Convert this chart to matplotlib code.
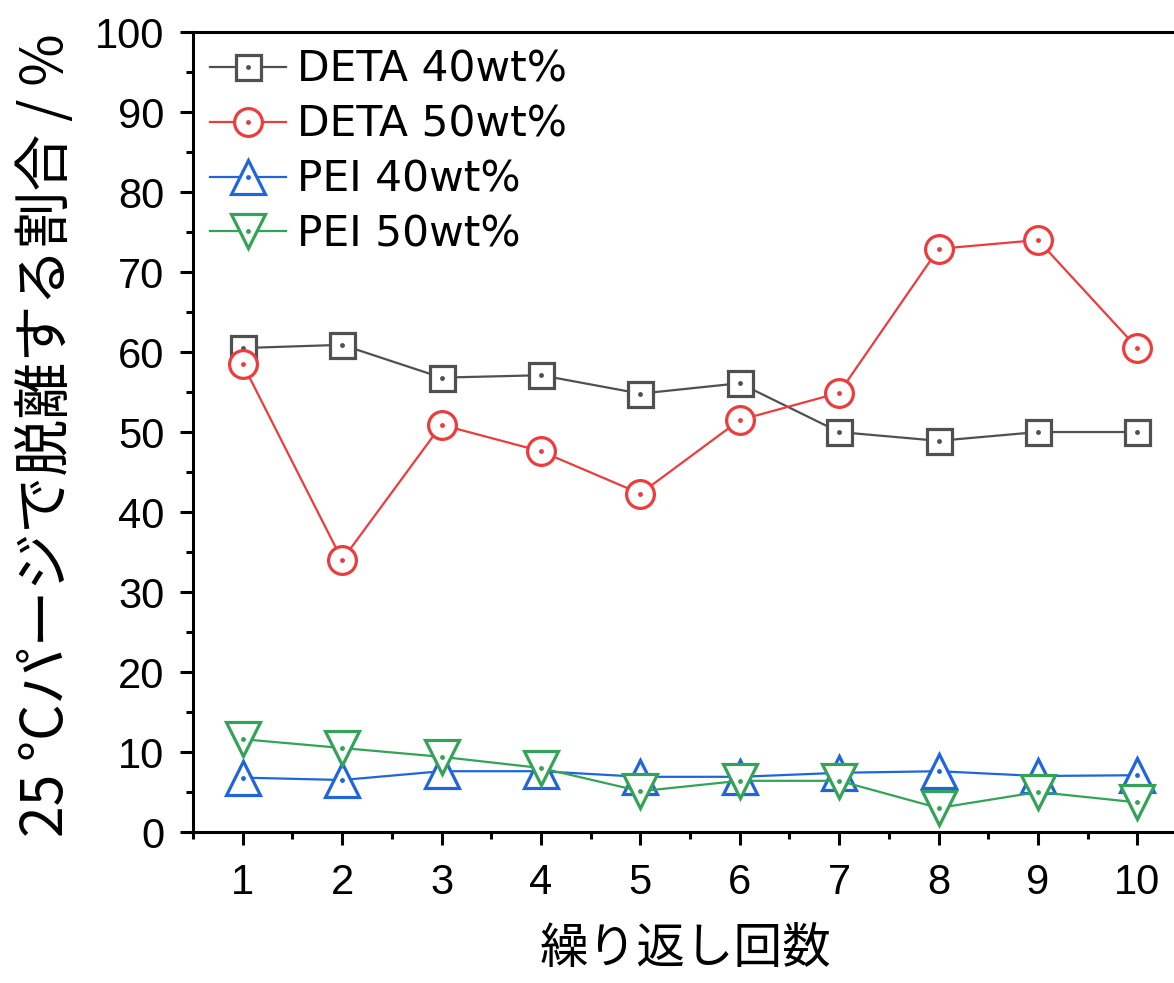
import numpy as np
import matplotlib
matplotlib.use("Agg")
import matplotlib.pyplot as plt
from matplotlib.ticker import MultipleLocator
from matplotlib.legend_handler import HandlerTuple

plt.rcParams['font.family'] = ['Liberation Sans', 'Noto Sans CJK JP', 'DejaVu Sans']
jp = ['Noto Sans CJK JP', 'DejaVu Sans']

# data
cycles = [1, 2, 3, 4, 5, 6, 7, 8, 9, 10]
deta40 = [60.5, 60.9, 56.8, 57.1, 54.8, 56.1, 50.0, 48.9, 50.0, 50.0]
deta50 = [58.5, 34.0, 50.9, 47.6, 42.3, 51.5, 54.9, 72.9, 74.0, 60.5]
pei40 = [6.8, 6.5, 7.6, 7.6, 6.9, 6.9, 7.4, 7.6, 7.0, 7.1]
pei50 = [11.6, 10.5, 9.4, 8.0, 5.1, 6.4, 6.4, 3.0, 5.0, 3.7]

labels = ['DETA 40wt%', 'DETA 50wt%', 'PEI 40wt%', 'PEI 50wt%']
colors = ['#505050', '#EE3B3B', '#1F65DB', '#33A457']
markers = ['s', 'o', '^', 'v']
msizes = [18, 20, 24, 24]

fig = plt.figure(figsize=(11.74, 9.83), dpi=100)
ax = fig.add_axes([0.1644, 0.1536, 0.8467, 0.8138])

handles = []
for ys, lab, c, m, ms in zip([deta40, deta50, pei40, pei50], labels, colors, markers, msizes):
    ln, = ax.plot(cycles, ys, color=c, lw=1.6, marker=m, ms=ms,
                  mfc='white', mec=c, mew=2.3)
    dot, = ax.plot(cycles, ys, ls='none', marker='o', ms=3.5, color=c, mec='none')
    handles.append((ln, dot))

ax.set_xlim(0.5, 10.5)
ax.set_ylim(0, 100)
ax.xaxis.set_major_locator(MultipleLocator(1))
ax.xaxis.set_minor_locator(MultipleLocator(0.5))
ax.yaxis.set_major_locator(MultipleLocator(10))
ax.yaxis.set_minor_locator(MultipleLocator(5))
ax.tick_params(which='both', direction='out', width=2.2, labelsize=30)
ax.tick_params(axis='x', pad=13)
ax.tick_params(axis='y', pad=11)
ax.tick_params(which='major', length=9.5)
ax.tick_params(which='minor', length=5)
for s in ax.spines.values():
    s.set_linewidth(2.2)

ax.set_xlabel('繰り返し回数', family=jp, fontsize=35, va='center')
ax.xaxis.set_label_coords(0.495, -0.146)
ax.set_ylabel('25 °Cパージで脱離する割合 / %', family=jp, fontsize=41, va='center')
ax.yaxis.set_label_coords(-0.147, 0.496)

leg = ax.legend(handles, labels, handler_map={tuple: HandlerTuple(ndivide=1)},
                loc='upper left', bbox_to_anchor=(0.0, 1.0), frameon=False,
                prop={'family': 'DejaVu Sans', 'size': 30.5}, handlelength=1.8,
                handletextpad=0.25, labelspacing=0.3, borderaxespad=0.1,
                borderpad=0.3)

fig.savefig('out.png', dpi=100)
